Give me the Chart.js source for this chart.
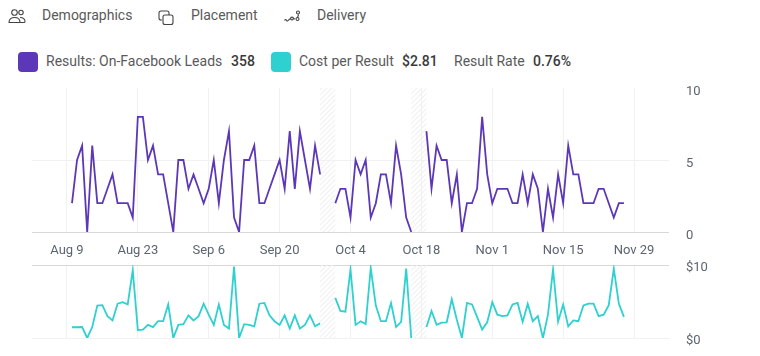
<!DOCTYPE html>
<html>
<head>
<meta charset="utf-8">
<title>Results and cost per result</title>
<script src="https://cdn.jsdelivr.net/npm/chart.js@4"></script>
<style>
    html, body { margin: 0; padding: 0; background: #fff; overflow: hidden; }
    #page { position: relative; width: 760px; height: 356px; font-family: Roboto, sans-serif; font-size: 14px; color: #5a5a5a; }
    #page span, #page svg, #page i, #page canvas { position: absolute; }
    #page span { white-space: nowrap; line-height: 18px; }
    #page b { font-weight: 500; color: #3a3a3a; }
    #page i { width: 20px; height: 20px; top: 52px; border-radius: 4px; }
    #page svg { fill: none; stroke: #444; stroke-width: 1.1; }
</style>
</head>
<body>
<div id="page">
    <svg style="left:8px;top:8px" width="18" height="16" viewBox="0 0 18 16">
        <circle cx="6.500" cy="4.500" r="2.800"/><circle cx="13" cy="4.500" r="2.200"/>
        <path d="M1 14.500c0-3.500 2.500-5 5.500-5s5.500 1.500 5.500 5z"/><path d="M12 9.500c3 0 5 1.200 5 4.200 0 .5-.5.8-1 .8h-4"/>
    </svg>
    <span style="left:42px;top:6px">Demographics</span>
    <svg style="left:158px;top:10px" width="16" height="16" viewBox="0 0 16 16">
        <path d="M4 10H3a2 2 0 0 1-2-2V3a2 2 0 0 1 2-2h6a2 2 0 0 1 2 2v2"/>
        <rect x="5" y="5" width="10" height="9.500" rx="2"/>
    </svg>
    <span style="left:191px;top:6px">Placement</span>
    <svg style="left:284px;top:10px" width="17" height="15" viewBox="0 0 17 15">
        <path d="M0.500 10.500c1-1.500 1.500-1 2 0s1.500.5 2-.5l2-1.500m2.500 0l2 .5m2.500-1l1-3.500"/>
        <circle cx="14" cy="2.500" r="1.500"/><circle cx="13.500" cy="9" r="1.500"/><circle cx="8" cy="8.500" r="1.400"/>
    </svg>
    <span style="left:317px;top:6px">Delivery</span>

    <i style="left:18px;background:#5c38b8"></i>
    <span style="left:46px;top:52px">Results: On-Facebook Leads</span>
    <span style="left:231px;top:52px"><b>358</b></span>
    <i style="left:271px;background:#2ed1cf"></i>
    <span style="left:299px;top:52px">Cost per Result</span>
    <span style="left:402px;top:52px"><b>$2.81</b></span>
    <span style="left:454px;top:52px">Result Rate</span>
    <span style="left:533px;top:52px"><b>0.76%</b></span>

    <canvas id="resultsChart" width="760" height="182" style="left:0;top:80px;width:760px;height:182px"></canvas>
    <canvas id="costChart" width="760" height="104" style="left:0;top:252px;width:760px;height:104px"></canvas>
</div>

<script>
// Both series are daily from Aug 10 to Nov 27; x is days since Aug 9
const results = [
    2, 5, 6, 0, 6, 2, 2, 3, 4, 2, 2, 2, 1, 8, 8, 5, 6, 4, 4, 2, 0, 5,
    5, 3, 4, 3, 2, 3, 5, 2, 5, 7, 1, 0, 5, 5, 6, 2, 2, 3, 4, 5, 3, 7, 3, 7, 5, 3, 6, 4, null, null,
    2, 3, 3, 1, 5, 4, 5, 1, 2, 4, 4, 2, 6, 4, 1, 0, null, null, 7, 3, 6, 5, 5, 2, 4, 0, 2, 2, 3, 8, 4,
    2, 3, 3, 3, 2, 2, 4, 2, 4, 3, 0, 3, 1, 4, 2, 6, 4, 4, 2, 2, 2, 3, 3, 2, 1, 2, 2
];
const costPerResult = [
    1.47, 1.47, 1.5, 0, 1.5, 4.45, 4.5, 3.0, 2.4, 4.7, 4.9, 4.6, 9.3, 1.1, 1.15, 1.8, 1.5, 2.3, 2.3, 4.6, 0, 1.8,
    1.9, 3.1, 2.4, 3.0, 4.7, 3.2, 1.8, 4.6, 1.8, 1.3, 9.8, 0, 1.9, 1.8, 1.6, 4.7, 4.8, 3.1, 2.3, 1.8, 3.1, 1.3, 3.1, 1.3, 1.8, 3.1, 1.6, 2.0, null, null,
    5.5, 3.7, 3.6, 9.4, 1.8, 2.3, 1.9, 9.6, 4.45, 2.3, 2.3, 4.8, 1.5, 2.2, 9.5, 0, null, null, 1.5, 3.7, 1.8, 2.1, 2.15, 5.3, 2.5, 0, 4.8, 4.6, 2.9, 1.15, 2.15,
    4.9, 3.2, 3.0, 3.1, 4.6, 4.8, 2.2, 4.7, 2.3, 3.0, 0, 3.2, 9.4, 2.25, 4.6, 1.6, 2.4, 2.3, 4.45, 4.7, 4.7, 3.0, 3.2, 4.5, 9.5, 4.7, 2.9
];
const xTickDays = [0, 14, 28, 42, 56, 70, 84, 98, 112];
const xTickLabels = ['Aug 9', 'Aug 23', 'Sep 6', 'Sep 20', 'Oct 4', 'Oct 18', 'Nov 1', 'Nov 15', 'Nov 29'];
const resultTicks = [0, 5, 10];
const costTicks = [0, 10];
// Days without data, shown hatched
const hatchRanges = [[50, 53], [68, 71]];

const xMin = -6.9;
const xMax = 118.9;
const tickColor = '#5b6470';
const lightGrid = '#f1f1f1';
const darkGrid = '#d9d9d9';

function makeHatch() {
    const tile = document.createElement('canvas');
    tile.width = 5;
    tile.height = 5;
    const c = tile.getContext('2d');
    c.strokeStyle = '#f1f1f1';
    c.lineWidth = 1.2;
    c.beginPath();
    c.moveTo(-1, 1);
    c.lineTo(1, -1);
    c.moveTo(-1, 6);
    c.lineTo(6, -1);
    c.moveTo(4, 6);
    c.lineTo(6, 4);
    c.stroke();
    return tile;
}

const hatchPlugin = {
    id: 'noDataHatch',
    beforeDatasetsDraw(chart) {
        const ctx = chart.ctx;
        const area = chart.chartArea;
        ctx.save();
        ctx.fillStyle = ctx.createPattern(makeHatch(), 'repeat');
        hatchRanges.forEach(function (range) {
            const left = chart.scales.x.getPixelForValue(range[0]);
            const right = chart.scales.x.getPixelForValue(range[1]);
            ctx.fillRect(left, area.top, right - left, area.bottom - area.top);
        });
        ctx.restore();
    }
};

// Zero the label padding so the plot area sits exactly where the layout padding puts it
function dropAxisPadding(axis) {
    axis.paddingTop = 0;
    axis.paddingBottom = 0;
    axis.paddingLeft = 0;
    axis.paddingRight = 0;
}

function makeChart(canvasId, opts) {
    return new Chart(document.getElementById(canvasId), {
        type: 'line',
        data: {
            datasets: [{
                data: opts.values.map(function (v, i) { return { x: i + 1, y: v }; }),
                borderColor: opts.color,
                borderWidth: 1.8,
                pointRadius: 0,
                tension: 0,
                spanGaps: false
            }]
        },
        options: {
            responsive: false,
            animation: false,
            events: [],
            layout: { padding: { left: 32, top: opts.paddingTop, right: 0, bottom: 0 } },
            plugins: { legend: { display: false }, tooltip: { enabled: false } },
            scales: {
                x: {
                    type: 'linear',
                    min: xMin,
                    max: xMax,
                    afterBuildTicks: function (axis) {
                        axis.ticks = xTickDays.map(function (d) { return { value: d }; });
                    },
                    afterFit: function (axis) {
                        axis.height = opts.xHeight;
                        dropAxisPadding(axis);
                    },
                    border: { display: false },
                    grid: { color: lightGrid, drawTicks: false },
                    ticks: {
                        display: opts.showXLabels,
                        autoSkip: false,
                        maxRotation: 0,
                        padding: 11,
                        color: tickColor,
                        font: { family: 'Roboto', size: 13 },
                        callback: function (value) { return xTickLabels[xTickDays.indexOf(value)]; }
                    }
                },
                y: {
                    position: 'right',
                    min: opts.yTicks[0],
                    max: opts.yTicks[opts.yTicks.length - 1],
                    afterBuildTicks: function (axis) {
                        axis.ticks = opts.yTicks.map(function (v) { return { value: v }; });
                    },
                    afterFit: function (axis) {
                        axis.width = 91;
                        dropAxisPadding(axis);
                    },
                    border: { display: false },
                    grid: {
                        drawTicks: false,
                        color: function (context) { return opts.yGridColor(context.tick.value); }
                    },
                    ticks: {
                        padding: 17,
                        labelOffset: opts.labelOffset,
                        color: tickColor,
                        font: { family: 'Roboto', size: 13 },
                        callback: opts.yLabel
                    }
                }
            }
        },
        plugins: [hatchPlugin]
    });
}

makeChart('resultsChart', {
    values: results,
    color: '#5c38b8',
    yTicks: resultTicks,
    paddingTop: 8,
    xHeight: 30,
    showXLabels: true,
    labelOffset: 4,
    yGridColor: function (v) { return v === 0 ? darkGrid : (v === 10 ? 'transparent' : lightGrid); },
    yLabel: function (v) { return String(v); }
});

makeChart('costChart', {
    values: costPerResult,
    color: '#2ed1cf',
    yTicks: costTicks,
    paddingTop: 13,
    xHeight: 18,
    showXLabels: false,
    labelOffset: 3,
    yGridColor: function (v) { return v === 10 ? darkGrid : lightGrid; },
    yLabel: function (v) { return '$' + v; }
});
</script>
</body>
</html>
